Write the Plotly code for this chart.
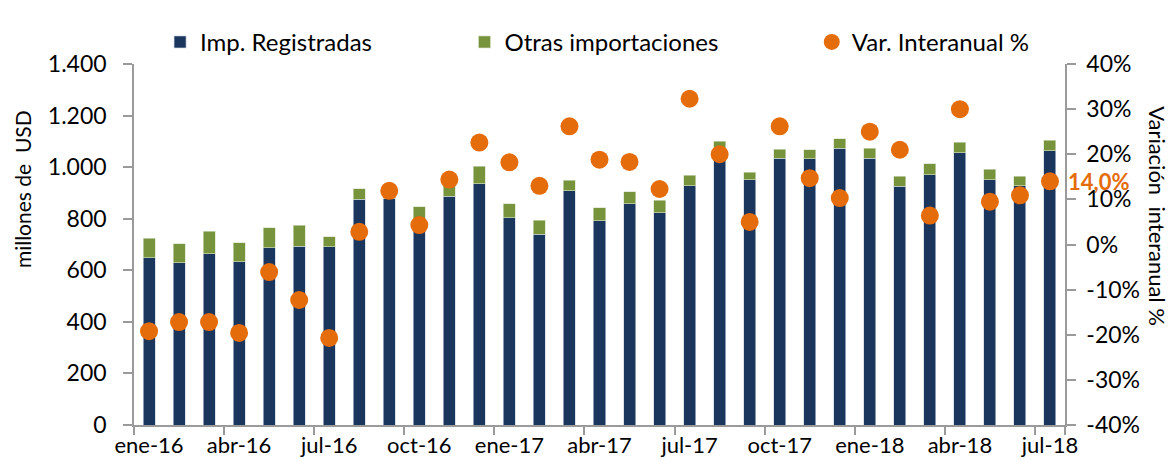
import plotly.graph_objects as go

# ── data ─────────────────────────────────────────────────────────────────────
months = [
    "ene-16", "feb-16", "mar-16", "abr-16", "may-16", "jun-16", "jul-16", "ago-16",
    "sep-16", "oct-16", "nov-16", "dic-16", "ene-17", "feb-17", "mar-17", "abr-17",
    "may-17", "jun-17", "jul-17", "ago-17", "sep-17", "oct-17", "nov-17", "dic-17",
    "ene-18", "feb-18", "mar-18", "abr-18", "may-18", "jun-18", "jul-18",
]
imp_registradas = [
    648, 630, 664, 633, 687, 694, 691, 876, 880, 752, 888, 936, 804, 740, 908, 793,
    859, 823, 928, 1075, 951, 1035, 1033, 1074, 1034, 925, 970, 1055, 951, 928, 1063,
]
otras_importaciones = [
    76, 73, 87, 74, 78, 80, 40, 40, 14, 94, 45, 68, 55, 55, 42, 49,
    46, 48, 41, 26, 29, 34, 34, 37, 40, 39, 43, 41, 40, 37, 41,
]
var_interanual = [
    -19.2, -17.2, -17.2, -19.6, -6.1, -12.3, -20.7, 2.8, 11.9, 4.3, 14.4, 22.6,
    18.2, 13.0, 26.2, 18.8, 18.3, 12.3, 32.3, 20.0, 5.0, 26.2, 14.7, 10.3,
    25.0, 21.0, 6.4, 30.0, 9.5, 10.9, 14.0,
]
usd_ticks = [0, 200, 400, 600, 800, 1000, 1200, 1400]
pct_ticks = [-40, -30, -20, -10, 0, 10, 20, 30, 40]

# ── styling ──────────────────────────────────────────────────────────────────
NAVY = "#1B365D"
GREEN = "#77933C"
ORANGE = "#E46C0A"
AXIS = "#9A9A9A"
FONT = "Lato, 'Open Sans', sans-serif"
FS = 23

fig = go.Figure()

fig.add_trace(go.Bar(
    x=months, y=imp_registradas,
    name="Imp. Registradas",
    width=0.4, legend="legend",
    marker=dict(color=NAVY, line=dict(color="rgba(200,210,225,0.8)", width=0.8)),
))
fig.add_trace(go.Bar(
    x=months, y=otras_importaciones,
    name="Otras importaciones",
    width=0.4, legend="legend2",
    marker=dict(color=GREEN, line=dict(color="rgba(215,225,200,0.8)", width=0.8)),
))
fig.add_trace(go.Scatter(
    x=months, y=var_interanual,
    name="Var. Interanual %",
    mode="markers",
    yaxis="y2", legend="legend3",
    marker=dict(color=ORANGE, size=18),
))

# last value label
fig.add_annotation(
    x=months[-1], y=var_interanual[-1], xref="x", yref="y2",
    text=f"{var_interanual[-1]:.1f}%".replace(".", ","),
    showarrow=False, xanchor="left", xshift=16,
    font=dict(family=FONT, size=22, color=ORANGE, weight="bold"),
)

# axis titles (placed as in the reference, right one reads top-down)
fig.add_annotation(
    x=-0.119, y=0.654, xref="paper", yref="paper",
    xanchor="center", yanchor="middle",
    text="millones de  USD", textangle=-90, showarrow=False,
    font=dict(family=FONT, size=21, color="#000000"),
)
fig.add_annotation(
    x=1.099, y=0.578, xref="paper", yref="paper",
    xanchor="center", yanchor="middle",
    text="Variación  interanual %", textangle=90, showarrow=False,
    font=dict(family=FONT, size=22, color="#000000"),
)

legend_common = dict(
    orientation="h", y=1.06, xanchor="left", yanchor="middle",
    font=dict(size=24), bgcolor="rgba(0,0,0,0)",
)

fig.update_layout(
    width=1174, height=460,
    barmode="stack",
    separators=",.",
    plot_bgcolor="white",
    paper_bgcolor="white",
    font=dict(family=FONT, size=FS, color="#000000"),
    margin=dict(l=126, r=117, t=47, b=43),
    showlegend=True,
    legend=dict(x=0.028, **legend_common),
    legend2=dict(x=0.355, **legend_common),
    legend3=dict(x=0.728, **legend_common),
    xaxis=dict(
        type="category",
        range=[-0.5, len(months) - 0.5],
        tickvals=months[::3],
        tickson="boundaries",
        tickangle=0,
        ticks="outside", ticklen=8, tickcolor=AXIS, tickwidth=1.5,
        showline=True, linecolor=AXIS, linewidth=1.5,
        showgrid=False, automargin=False,
        tickfont=dict(size=22),
    ),
    yaxis=dict(
        range=[0, 1400],
        tickvals=usd_ticks,
        tickformat=",d",
        ticks="outside", ticklen=9, tickcolor=AXIS, tickwidth=1.5,
        showline=True, linecolor=AXIS, linewidth=1.5,
        showgrid=False, zeroline=False, automargin=False,
        ticklabelstandoff=12,
    ),
    yaxis2=dict(
        overlaying="y", side="right",
        range=[-40, 40],
        tickvals=pct_ticks,
        ticktext=[f"{v}%" for v in pct_ticks],
        ticks="outside", ticklen=9, tickcolor=AXIS, tickwidth=1.5,
        showline=True, linecolor=AXIS, linewidth=1.5,
        showgrid=False, zeroline=False, automargin=False,
        ticklabelstandoff=6,
    ),
)

fig.write_html("out.html")
